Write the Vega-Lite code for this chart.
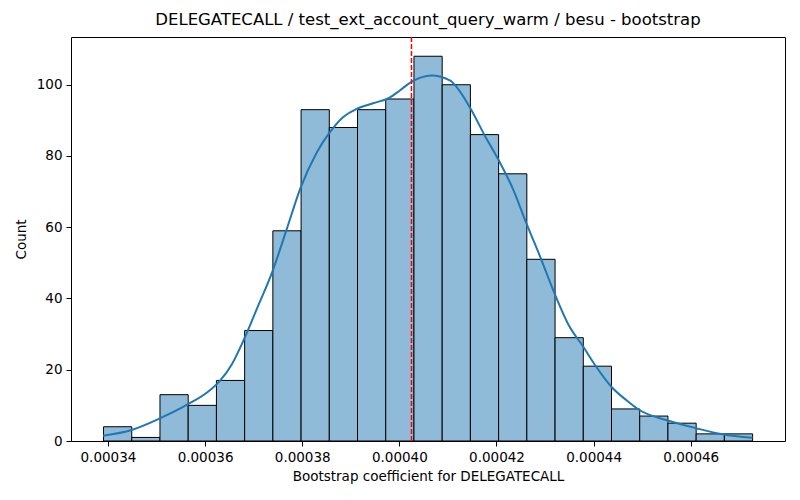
{
  "$schema": "https://vega.github.io/schema/vega-lite/v6.json",
  "autosize": "none",
  "width": 714,
  "height": 404,
  "padding": {"left": 71, "top": 37, "right": 15, "bottom": 59},
  "background": "white",
  "title": {
    "text": "DELEGATECALL / test_ext_account_query_warm / besu - bootstrap",
    "font": "DejaVu Sans",
    "fontSize": 16.5,
    "fontWeight": "normal",
    "color": "black",
    "offset": 8
  },
  "datasets": {
    "bins": [
      {"bin_start": 0.00033910, "bin_end": 0.00034491, "count": 4},
      {"bin_start": 0.00034491, "bin_end": 0.00035072, "count": 1},
      {"bin_start": 0.00035072, "bin_end": 0.00035653, "count": 13},
      {"bin_start": 0.00035653, "bin_end": 0.00036234, "count": 10},
      {"bin_start": 0.00036234, "bin_end": 0.00036815, "count": 17},
      {"bin_start": 0.00036815, "bin_end": 0.00037396, "count": 31},
      {"bin_start": 0.00037396, "bin_end": 0.00037977, "count": 59},
      {"bin_start": 0.00037977, "bin_end": 0.00038558, "count": 93},
      {"bin_start": 0.00038558, "bin_end": 0.00039139, "count": 88},
      {"bin_start": 0.00039139, "bin_end": 0.00039720, "count": 93},
      {"bin_start": 0.00039720, "bin_end": 0.00040301, "count": 96},
      {"bin_start": 0.00040301, "bin_end": 0.00040882, "count": 108},
      {"bin_start": 0.00040882, "bin_end": 0.00041463, "count": 100},
      {"bin_start": 0.00041463, "bin_end": 0.00042044, "count": 86},
      {"bin_start": 0.00042044, "bin_end": 0.00042625, "count": 75},
      {"bin_start": 0.00042625, "bin_end": 0.00043206, "count": 51},
      {"bin_start": 0.00043206, "bin_end": 0.00043787, "count": 29},
      {"bin_start": 0.00043787, "bin_end": 0.00044368, "count": 21},
      {"bin_start": 0.00044368, "bin_end": 0.00044949, "count": 9},
      {"bin_start": 0.00044949, "bin_end": 0.00045530, "count": 7},
      {"bin_start": 0.00045530, "bin_end": 0.00046111, "count": 5},
      {"bin_start": 0.00046111, "bin_end": 0.00046692, "count": 2},
      {"bin_start": 0.00046692, "bin_end": 0.00047273, "count": 2}
    ],
    "kde": [
      {"x": 0.0003390, "y": 1.5},
      {"x": 0.0003449, "y": 3.1},
      {"x": 0.0003508, "y": 6.4},
      {"x": 0.0003566, "y": 10.4},
      {"x": 0.0003604, "y": 13.6},
      {"x": 0.0003630, "y": 16.8},
      {"x": 0.0003655, "y": 21.5},
      {"x": 0.0003680, "y": 28.5},
      {"x": 0.0003706, "y": 36.9},
      {"x": 0.0003739, "y": 47.7},
      {"x": 0.0003768, "y": 59.4},
      {"x": 0.0003797, "y": 71.2},
      {"x": 0.0003830, "y": 81.0},
      {"x": 0.0003857, "y": 86.7},
      {"x": 0.0003884, "y": 90.9},
      {"x": 0.0003912, "y": 93.2},
      {"x": 0.0003946, "y": 94.8},
      {"x": 0.0003980, "y": 96.4},
      {"x": 0.0004001, "y": 98.4},
      {"x": 0.0004025, "y": 100.8},
      {"x": 0.0004066, "y": 102.6},
      {"x": 0.0004104, "y": 101.2},
      {"x": 0.0004145, "y": 93.7},
      {"x": 0.0004176, "y": 85.7},
      {"x": 0.0004203, "y": 79.2},
      {"x": 0.0004234, "y": 70.7},
      {"x": 0.0004261, "y": 61.3},
      {"x": 0.0004292, "y": 51.0},
      {"x": 0.0004319, "y": 41.6},
      {"x": 0.0004350, "y": 32.2},
      {"x": 0.0004378, "y": 26.6},
      {"x": 0.0004405, "y": 20.9},
      {"x": 0.0004436, "y": 15.3},
      {"x": 0.0004467, "y": 11.5},
      {"x": 0.0004494, "y": 8.7},
      {"x": 0.0004549, "y": 5.9},
      {"x": 0.0004611, "y": 3.6},
      {"x": 0.0004665, "y": 1.9},
      {"x": 0.0004727, "y": 0.9}
    ],
    "marker": [
      {"x": 0.0004025}
    ]
  },
  "layer": [
    {
      "data": {"name": "bins"},
      "mark": {"type": "rect", "fill": "#8fbbd9", "stroke": "black", "strokeWidth": 1},
      "encoding": {
        "x": {
          "field": "bin_start",
          "type": "quantitative",
          "scale": {"domain": [0.0003324, 0.0004794], "nice": false, "zero": false},
          "axis": {
            "values": [0.00034, 0.00036, 0.00038, 0.0004, 0.00042, 0.00044, 0.00046],
            "format": ".5f",
            "title": "Bootstrap coefficient for DELEGATECALL"
          }
        },
        "x2": {"field": "bin_end"},
        "y": {
          "field": "count",
          "type": "quantitative",
          "scale": {"domain": [0, 113.4], "nice": false},
          "axis": {"values": [0, 20, 40, 60, 80, 100], "title": "Count"}
        },
        "y2": {"datum": 0}
      }
    },
    {
      "data": {"name": "kde"},
      "mark": {"type": "line", "stroke": "#1f77b4", "strokeWidth": 2, "interpolate": "monotone"},
      "encoding": {
        "x": {"field": "x", "type": "quantitative"},
        "y": {"field": "y", "type": "quantitative"}
      }
    },
    {
      "data": {"name": "marker"},
      "mark": {"type": "rule", "stroke": "#ff0000", "strokeWidth": 1.5, "strokeDash": [5, 2], "opacity": 1},
      "encoding": {
        "x": {"field": "x", "type": "quantitative"}
      }
    }
  ],
  "config": {
    "font": "DejaVu Sans",
    "view": {"stroke": "black", "strokeWidth": 1},
    "axis": {
      "grid": false,
      "domain": false,
      "tickColor": "black",
      "tickSize": 5,
      "tickWidth": 1,
      "labelColor": "black",
      "labelFont": "DejaVu Sans",
      "labelFontSize": 13.5,
      "labelPadding": 4,
      "titleColor": "black",
      "titleFont": "DejaVu Sans",
      "titleFontSize": 13.5,
      "titleFontWeight": "normal"
    },
    "axisX": {"titlePadding": 6},
    "axisY": {"titlePadding": 8, "labelAngle": 0}
  }
}
